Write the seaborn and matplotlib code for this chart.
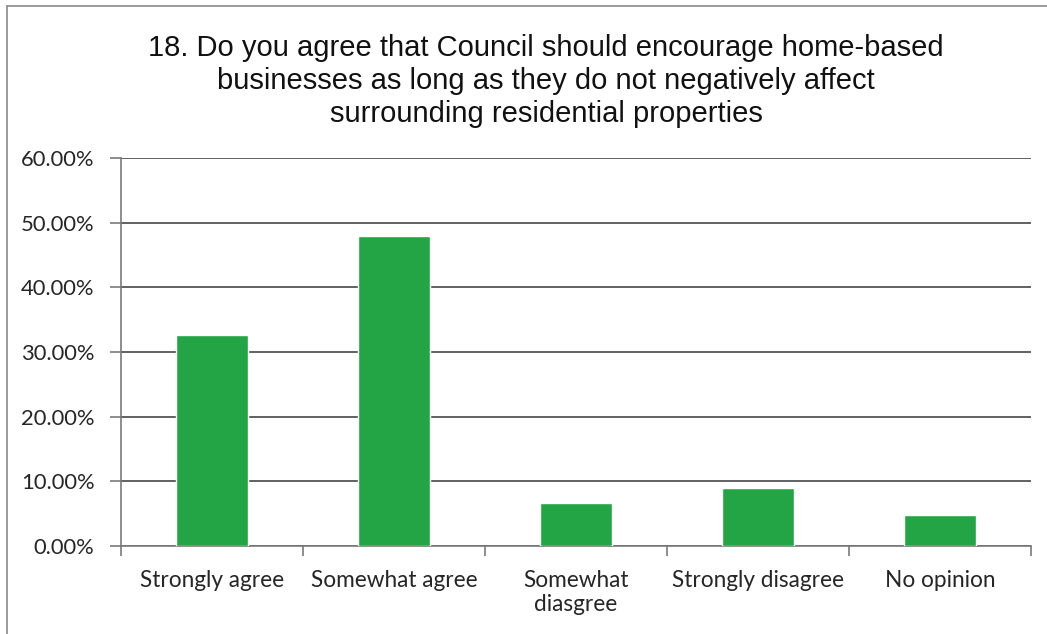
import matplotlib
matplotlib.use("Agg")
import matplotlib.pyplot as plt
import seaborn as sns
from matplotlib.lines import Line2D
from matplotlib.ticker import FixedLocator, FuncFormatter

# Survey responses (share of respondents, %)
categories = ["Strongly agree", "Somewhat agree", "Somewhat\ndiasgree",
              "Strongly disagree", "No opinion"]
shares = [32.6, 47.9, 6.7, 8.9, 4.8]
y_ticks = [0, 10, 20, 30, 40, 50, 60]
title = ("18. Do you agree that Council should encourage home-based\n"
         "businesses as long as they do not negatively affect\n"
         "surrounding residential properties")

sns.set_theme(style="white")
plt.rcParams["font.family"] = ["Lato", "DejaVu Sans"]

W, H = 1047, 634
fig = plt.figure(figsize=(W / 100, H / 100), dpi=100)
fig.patch.set_facecolor("white")

ax = fig.add_axes([121 / W, 1 - 546 / H, 910 / W, 388 / H])
sns.barplot(x=categories, y=shares, color="#24a545", width=0.4,
            saturation=1, ax=ax, zorder=3)

ax.set_xlim(-0.5, len(categories) - 0.5)
ax.set_ylim(0, 60)
ax.set_xlabel("")
ax.set_ylabel("")

# y axis: percent labels with two decimals and horizontal gridlines
ax.yaxis.set_major_locator(FixedLocator(y_ticks))
ax.yaxis.set_major_formatter(FuncFormatter(lambda v, _: f"{v:.2f}%"))
ax.yaxis.grid(True, color="#555555", linewidth=1.3)
ax.set_axisbelow(True)

# x axis: tick marks sit between categories
ax.set_xticks(range(len(categories)))
ax.set_xticks([i - 0.5 for i in range(len(categories) + 1)], minor=True)
ax.tick_params(axis="x", which="major", length=0, pad=17,
               labelsize=16.3, labelcolor="#262626")
ax.tick_params(axis="x", which="minor", length=7, width=1.2,
               color="#7a7a7a", direction="out", bottom=True)
ax.tick_params(axis="y", length=8, width=1.2, color="#7a7a7a",
               direction="out", left=True, pad=11,
               labelsize=15.8, labelcolor="#262626")

for side in ("top", "right"):
    ax.spines[side].set_visible(False)
for side in ("left", "bottom"):
    ax.spines[side].set_color("#7a7a7a")
    ax.spines[side].set_linewidth(1.2)

fig.text(546 / W, 1 - 34 / H, title, ha="center", va="top",
         fontsize=21, family=["Liberation Sans", "DejaVu Sans"],
         color="#111111", linespacing=1.22)

# chart-area frame
frame_kw = dict(transform=fig.transFigure, color="#8a8a8a", linewidth=1.2)
fig.add_artist(Line2D([7 / W, 7 / W], [0, 1 - 6 / H], **frame_kw))
fig.add_artist(Line2D([7 / W, 1], [1 - 6 / H, 1 - 6 / H], **frame_kw))

fig.savefig("out.png", dpi=100, facecolor="white")
